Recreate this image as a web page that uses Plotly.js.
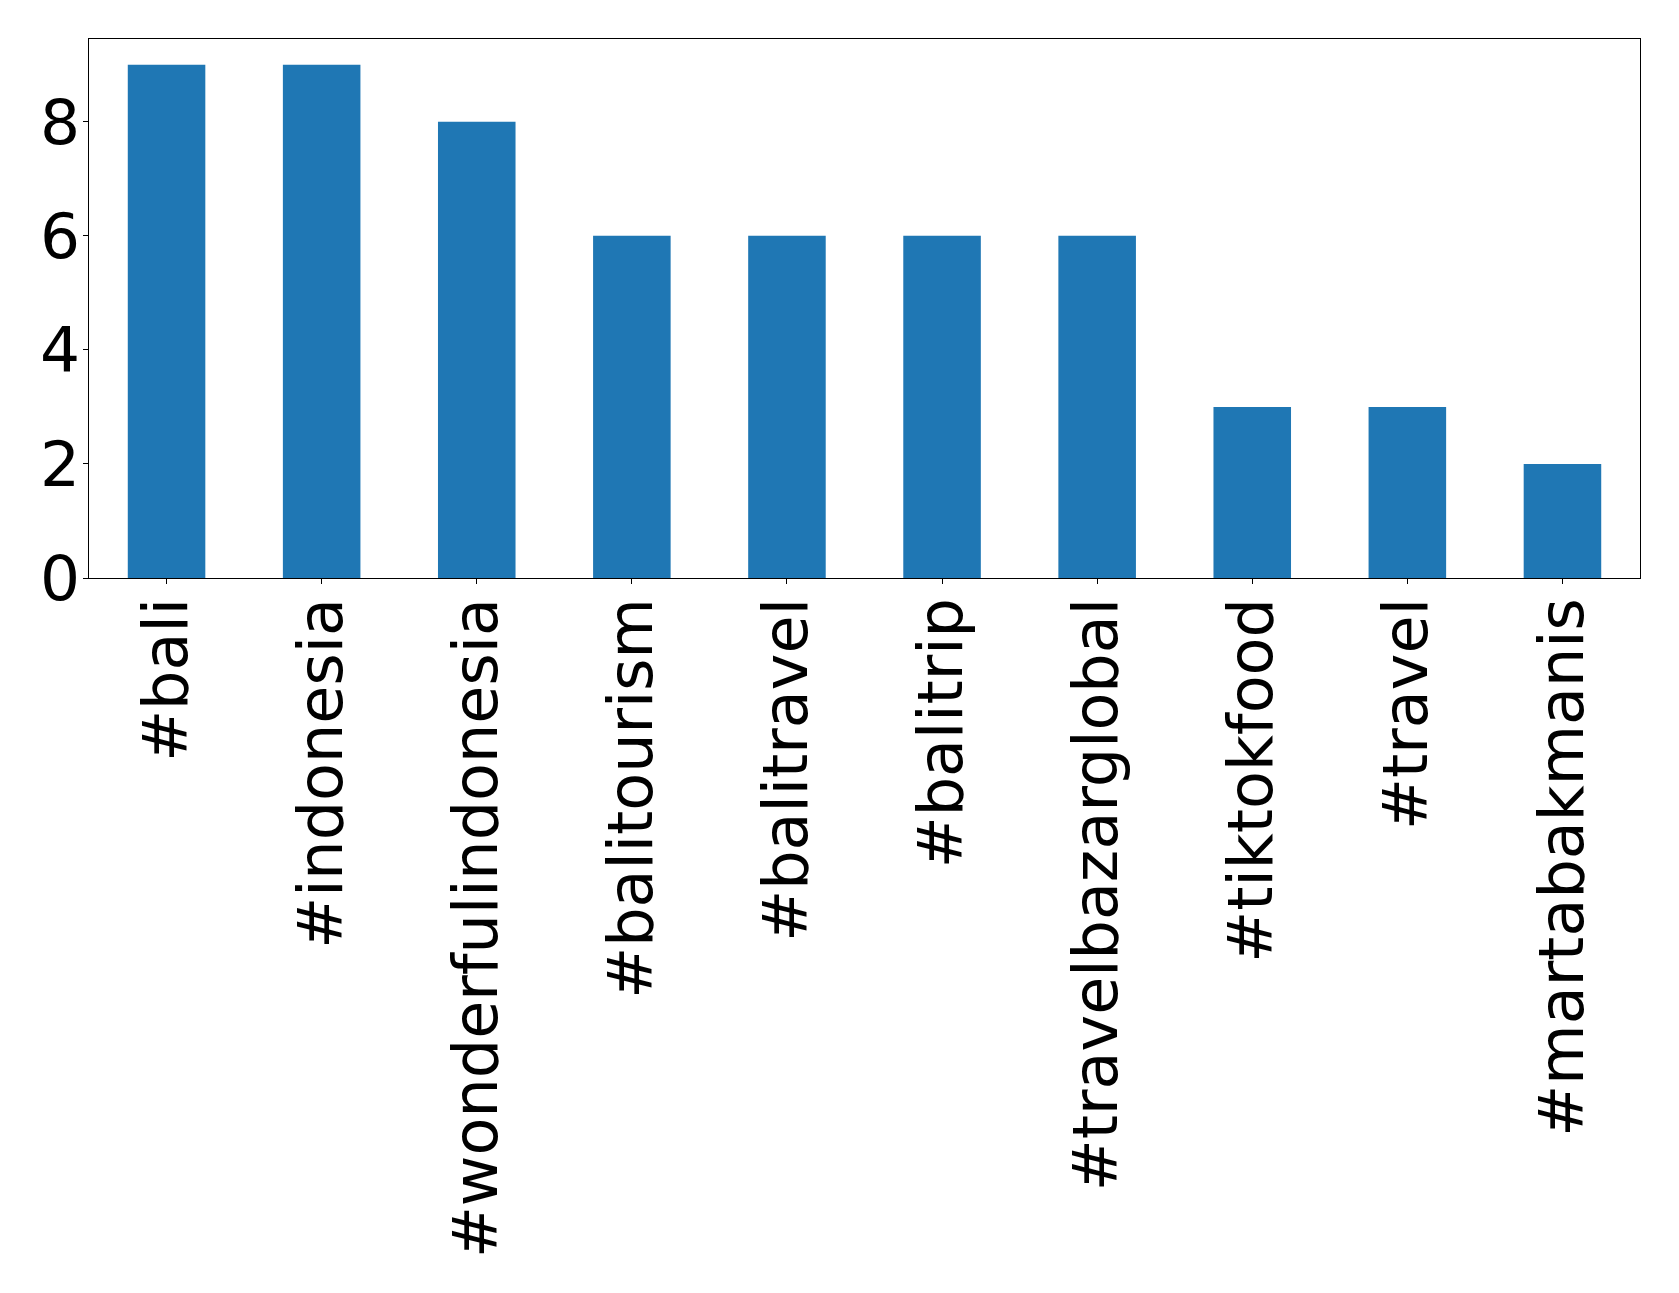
<!DOCTYPE html>
<html>
<head>
<meta charset="utf-8">
<script src="https://cdn.plot.ly/plotly-3.0.1.min.js"></script>
<style>html,body{margin:0;padding:0;background:#fff;}</style>
</head>
<body>
<div id="chart" style="width:1679px;height:1293px;"></div>
<script>
const categories = ["#bali", "#indonesia", "#wonderfulindonesia", "#balitourism", "#balitravel", "#balitrip", "#travelbazarglobal", "#tiktokfood", "#travel", "#martabakmanis"];
const counts = [9, 9, 8, 6, 6, 6, 6, 3, 3, 2];
const yTicks = [0, 2, 4, 6, 8];

const trace = {
  type: "bar",
  x: categories,
  y: counts,
  width: 0.5,
  marker: {color: "#1f77b4", line: {width: 0}},
  hoverinfo: "x+y"
};

const layout = {
  width: 1679,
  height: 1293,
  margin: {l: 89, r: 39, t: 39, b: 715, pad: 0},
  paper_bgcolor: "#ffffff",
  plot_bgcolor: "#ffffff",
  font: {family: "DejaVu Sans", size: 62, color: "#000000"},
  showlegend: false,
  bargap: 0.5,
  xaxis: {
    type: "category",
    range: [-0.5, 9.5],
    tickangle: -90,
    ticks: "outside",
    ticklen: 5,
    tickwidth: 1,
    tickcolor: "#000",
    showline: true,
    linecolor: "#000",
    linewidth: 1.3,
    mirror: true,
    showgrid: false,
    zeroline: false,
    ticklabelstandoff: -11,
    tickfont: {family: "DejaVu Sans", size: 62, color: "#000"}
  },
  yaxis: {
    range: [0, 9.45],
    tickvals: yTicks,
    ticktext: yTicks.map(String),
    ticks: "outside",
    ticklen: 5,
    tickwidth: 1,
    tickcolor: "#000",
    showline: true,
    linecolor: "#000",
    linewidth: 1.3,
    mirror: true,
    showgrid: false,
    zeroline: false,
    ticklabelstandoff: -10,
    tickfont: {family: "DejaVu Sans", size: 63, color: "#000"}
  }
};

Plotly.newPlot("chart", [trace], layout, {displayModeBar: false, staticPlot: true});
</script>
</body>
</html>
